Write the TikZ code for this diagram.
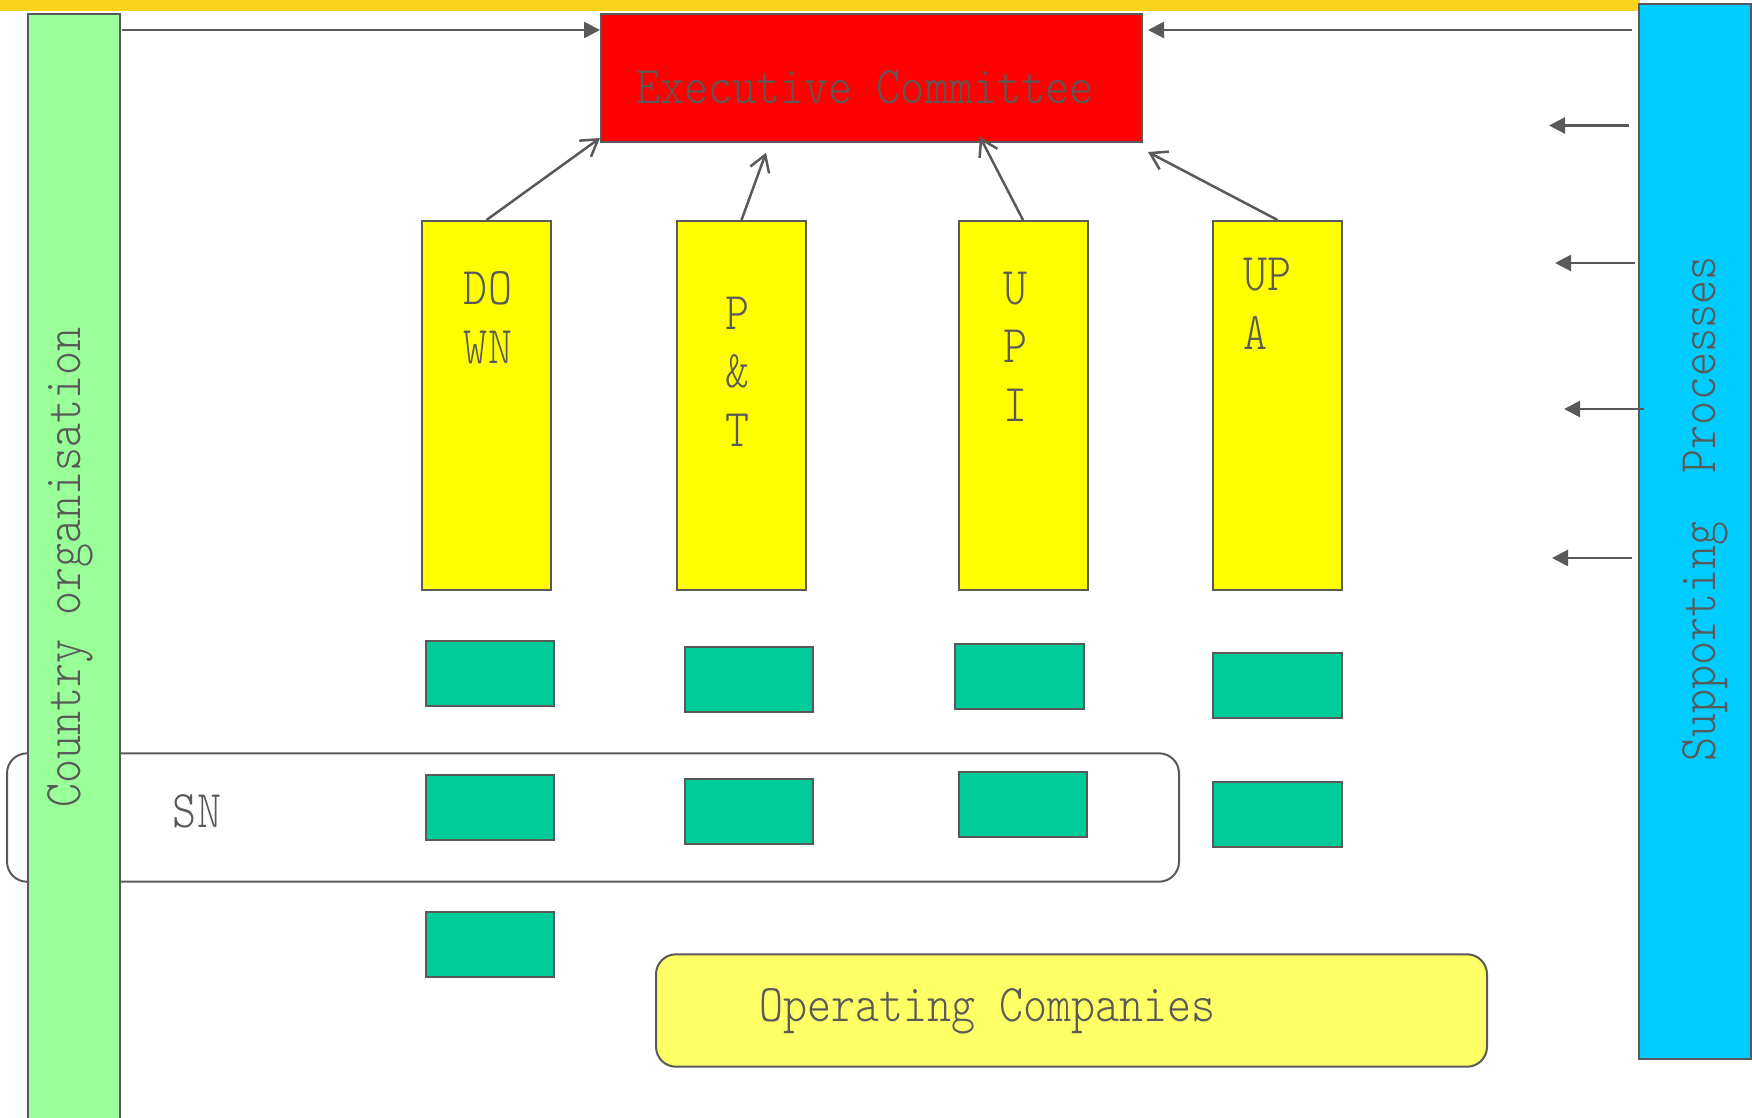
\documentclass[tikz,border=0pt]{standalone}
\usepackage{fontspec}
\usetikzlibrary{arrows.meta}
\newfontfamily\simfont{lmmonolt10-regular.otf}[FakeStretch=0.863]
\definecolor{linegray}{HTML}{595959}
\definecolor{bandgold}{HTML}{F9D31C}
\definecolor{countrygreen}{HTML}{99FF99}
\definecolor{procblue}{HTML}{00CCFF}
\definecolor{colyellow}{HTML}{FFFF00}
\definecolor{execred}{HTML}{FF0000}
\definecolor{unitgreen}{HTML}{00CC99}
\definecolor{opyellow}{HTML}{FFFF66}

\begin{document}
\begin{tikzpicture}[x=1pt, y=-1pt, every node/.style={draw=linegray, line width=2pt, inner sep=0pt},
	lbl/.style={draw=none, text=linegray, align=center, font=\simfont\fontsize{53}{58.5}\selectfont},
	colbox/.style={fill=colyellow, minimum width=129pt, minimum height=369pt},
	unit/.style={fill=unitgreen, minimum width=128.5pt, minimum height=65pt},
	fillarr/.style={draw=linegray, line width=2.5pt, -{Triangle[length=16pt, width=16pt]}},
	openarr/.style={draw=linegray, line width=2.5pt, -{Straight Barb[length=16pt, width=20pt]}}]
	\useasboundingbox (0,0) rectangle (1752,1118);
	\fill[bandgold] (0,0) rectangle (1640,10.7);
	
	\node[rounded corners=20pt, minimum width=1172pt, minimum height=128.4pt] (sn) at (593,817.5) {};
	\node[fill=countrygreen, minimum width=92pt, minimum height=1111pt] (country) at (74,569.5) {};
	\node[fill=procblue, minimum width=111.5pt, minimum height=1055.7pt] (proc) at (1694.75,531.6) {};
	\node[fill=execred, minimum width=541pt, minimum height=128pt] (exec) at (871.5,78) {};
	\node[fill=opyellow, rounded corners=20pt, minimum width=831pt, minimum height=112.4pt] (opco) at (1071.5,1010.5) {};
	
	\node[lbl, rotate=90, anchor=base] (countrylbl) at (80,567.5) {Country organisation};
	\node[lbl, rotate=90, anchor=base] (proclbl) at (1715,509) {Supporting~~Processes};
	\node[lbl, anchor=base] (execlbl) at (865,103.3) {Executive Committee};
	\node[lbl, anchor=base] (snlbl) at (197,827.7) {SN};
	\node[lbl, anchor=base] (oplbl) at (987.5,1021.7) {Operating Companies};
	
	\node[colbox] (down) at (486.5,405.5) {};
	\node[colbox] (pt) at (741.5,405.5) {};
	\node[colbox] (upi) at (1023,405.5) {};
	\node[colbox] (upa) at (1277.5,405.5) {};
	\node[lbl, anchor=north] (downlbl) at (488,270.7) {DO\\WN};
	\node[lbl, anchor=north] (ptlbl) at (737,296) {P\\\&\\T};
	\node[lbl, anchor=north] (upilbl) at (1015,271) {U\\P\\I};
	\node[lbl, anchor=north west, align=left] (upalbl) at (1242,257.3) {UP\\A};
	
	\node[unit] (down1) at (490,673.2) {};
	\node[unit] (pt1) at (749,679.5) {};
	\node[unit] (upi1) at (1019.5,676.2) {};
	\node[unit] (upa1) at (1277.5,685.7) {};
	\node[unit] (down2) at (490,807.3) {};
	\node[unit] (pt2) at (749,811) {};
	\node[unit] (upi2) at (1023,804.3) {};
	\node[unit] (upa2) at (1277.5,814) {};
	\node[unit] (down3) at (490,944.7) {};
	
	\coordinate (cl) at (122,30);
	\coordinate (cr) at (1632,30);
	\draw[fillarr] (cl) -- (cl -| exec.west);
	\draw[fillarr, shorten >=5pt] (cr) -- (cr -| exec.east);
	\draw[openarr] (down.north) -- ([yshift=5pt]exec.south west);
	\draw[openarr] (pt.north) -- ([xshift=166pt, yshift=-9.7pt]exec.south west);
	\draw[openarr] (upi.north) -- ([xshift=108.5pt, yshift=6pt]exec.south);
	\draw[openarr] (upa.north) -- ([xshift=5pt, yshift=-9pt]exec.south east);
	\foreach \i/\x/\y in {1/1629/125.5, 2/1635/263, 3/1644/409, 4/1632/558} {
		\coordinate (sp\i) at (\x,\y);
		\draw[fillarr] (sp\i) -- ++(-80,0);
	}
\end{tikzpicture}
\end{document}
